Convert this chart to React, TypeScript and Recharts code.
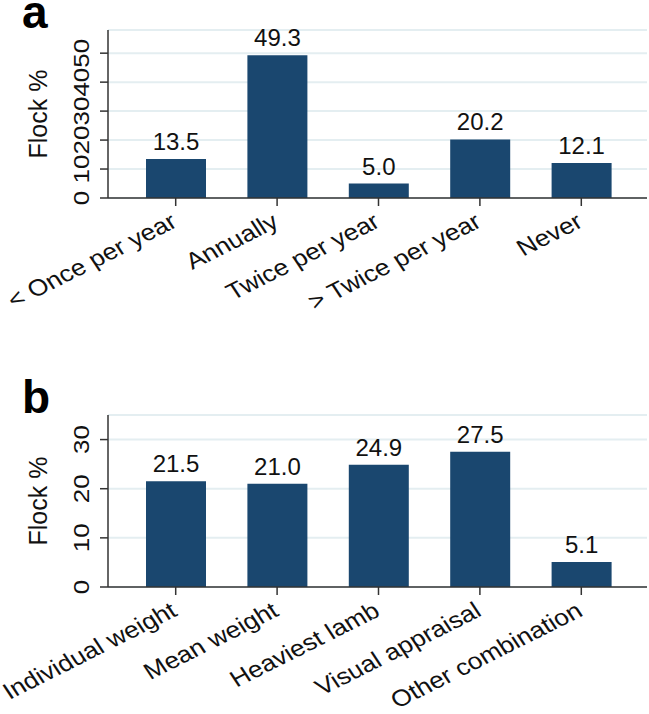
import React from "react";
import { BarChart, Bar, XAxis, YAxis, CartesianGrid, LabelList } from "recharts";

const freqCategories = ["< Once per year", "Annually", "Twice per year", "> Twice per year", "Never"];
const freqValues = [13.5, 49.3, 5.0, 20.2, 12.1];
const freqTicks = [0, 10, 20, 30, 40, 50];

const methodCategories = ["Individual weight", "Mean weight", "Heaviest lamb", "Visual appraisal", "Other combination"];
const methodValues = [21.5, 21.0, 24.9, 27.5, 5.1];
const methodTicks = [0, 10, 20, 30];

const yLabel = "Flock %";
const panelLabels = ["a", "b"];

const FONT = "'Liberation Sans', Arial, Helvetica, sans-serif";
const BAR = "#1a476f";
const AXIS = "#333333";
const GRID = "#e4eef1";

const freqData = freqCategories.map((c, i) => ({ name: c, value: freqValues[i] }));
const methodData = methodCategories.map((c, i) => ({ name: c, value: methodValues[i] }));

const XTick = (props: any) => {
  const { x, y, payload } = props;
  return (
    <g transform={`translate(${x + 3},${y + 18})`}>
      <text transform="scale(1.15,1) rotate(-30)" textAnchor="end" fontSize={23} fontFamily={FONT} fill="#111">
        {payload.value}
      </text>
    </g>
  );
};

const YTick = (props: any) => {
  const { x, y, payload } = props;
  const tx = x - 9;
  return (
    <g transform={`translate(${tx},${y})`}>
      <text transform="scale(0.82,1) rotate(-90)" textAnchor="middle" fontSize={26} fontFamily={FONT} fill="#111">
        {payload.value}
      </text>
    </g>
  );
};

const YLabel = (props: any) => {
  const vb = props.viewBox || {};
  const cx = 47;
  const cy = vb.y + vb.height / 2;
  return (
    <text x={cx} y={cy} transform={`rotate(-90 ${cx} ${cy})`} textAnchor="middle" fontSize={25} fontFamily={FONT} fill="#111">
      {yLabel}
    </text>
  );
};

const Panel = ({ data, ticks, domain, height, top, xHeight }: any) => (
  <BarChart
    width={649}
    height={height}
    data={data}
    margin={{ top, right: 2, bottom: 0, left: 8 }}
    barSize={60}
  >
    <CartesianGrid horizontal vertical={false} stroke={GRID} strokeWidth={2} />
    <XAxis
      dataKey="name"
      interval={0}
      height={xHeight}
      padding={{ left: 17, right: 15 }}
      tick={<XTick />}
      tickSize={8}
      axisLine={{ stroke: AXIS, strokeWidth: 1.5 }}
      tickLine={{ stroke: AXIS, strokeWidth: 1.5 }}
    />
    <YAxis
      width={100}
      domain={domain}
      ticks={ticks}
      interval={0}
      tick={<YTick />}
      tickSize={8}
      axisLine={{ stroke: AXIS, strokeWidth: 1.5 }}
      tickLine={{ stroke: AXIS, strokeWidth: 1.5 }}
      label={(p: any) => <YLabel {...p} />}
    />
    <Bar dataKey="value" fill={BAR} isAnimationActive={false}>
      <LabelList
        dataKey="value"
        position="top"
        offset={9}
        formatter={(v: any) => Number(v).toFixed(1)}
        fontSize={24}
        fontFamily={FONT}
        fill="#111"
      />
    </Bar>
  </BarChart>
);

export default function App() {
  return (
    <div style={{ position: "absolute", left: 0, top: 0, width: 649, height: 714, background: "#fff" }}>
      <Panel data={freqData} ticks={freqTicks} domain={[0, 58]} height={370} top={30} xHeight={172} />
      <Panel data={methodData} ticks={methodTicks} domain={[0, 35]} height={344} top={45} xHeight={127} />
      <svg width={649} height={714} style={{ position: "absolute", left: 0, top: 0, pointerEvents: "none" }}>
        <text x={22} y={28} fontSize={46} fontWeight="bold" fontFamily={FONT} fill="#000">{panelLabels[0]}</text>
        <text x={22} y={413} fontSize={46} fontWeight="bold" fontFamily={FONT} fill="#000">{panelLabels[1]}</text>
      </svg>
    </div>
  );
}
